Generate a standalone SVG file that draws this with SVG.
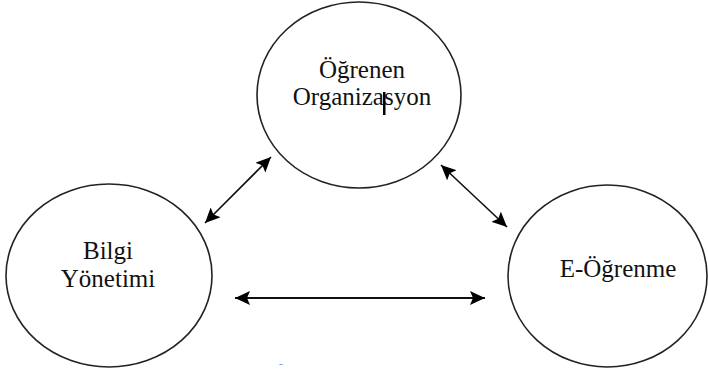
<svg xmlns="http://www.w3.org/2000/svg" width="708" height="374" viewBox="0 0 708 374">
<style>
.node ellipse{fill:#fff;stroke:#222;stroke-width:1.6}
.lbl{font-family:"Liberation Serif","Times New Roman",serif;font-size:25px;fill:#111;text-anchor:middle}
.conn line{stroke:#111;marker-start:url(#ah);marker-end:url(#ah)}
</style>
<defs>
<marker id="ah" markerUnits="userSpaceOnUse" markerWidth="16" markerHeight="14" refX="15" refY="7" orient="auto-start-reverse" viewBox="0 0 16 14">
<path d="M0,0 L15,7 L0,14 L3,7 z" fill="#000"/>
</marker>
</defs>
<rect width="708" height="374" fill="#fff"/>
<g id="ogrenen-organizasyon" class="node">
<ellipse cx="359" cy="95" rx="102" ry="93"/>
<text class="lbl" x="362" y="78">Öğrenen</text>
<text class="lbl" x="362" y="105">Organizasyon</text>
<rect x="383" y="92" width="2.5" height="23" fill="#000"/>
</g>
<g id="bilgi-yonetimi" class="node">
<ellipse cx="109" cy="275.5" rx="103" ry="91.5"/>
<text class="lbl" x="108" y="259">Bilgi</text>
<text class="lbl" x="108" y="287">Yönetimi</text>
</g>
<g id="e-ogrenme" class="node">
<ellipse cx="607.5" cy="276" rx="99.5" ry="91"/>
<text class="lbl" x="618" y="277">E-Öğrenme</text>
</g>
<g id="connectors" class="conn">
<line x1="271" y1="157" x2="205" y2="223" stroke-width="1.6"/>
<line x1="441" y1="165" x2="507" y2="227" stroke-width="1.6"/>
<line x1="235" y1="298" x2="485" y2="298" stroke-width="2.2"/>
</g>
<text x="281" y="371" font-family="Liberation Serif, serif" font-size="11" fill="#334" text-anchor="middle">¨</text>
</svg>
